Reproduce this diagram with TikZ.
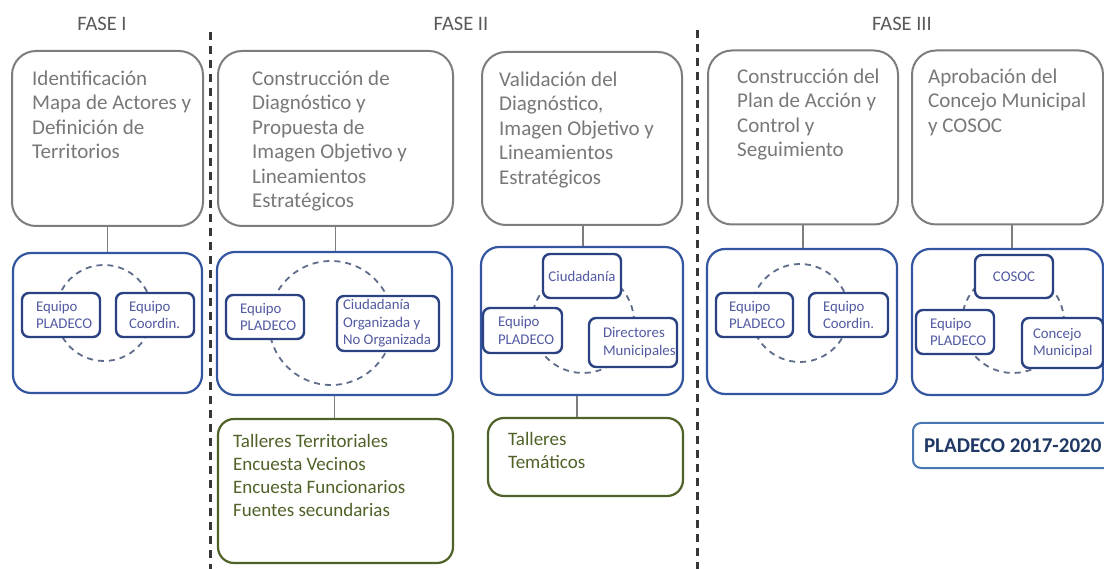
\documentclass[tikz,border=0pt]{standalone}
\usepackage{fontspec}
\setmainfont{Carlito}
\hyphenpenalty=10000
\exhyphenpenalty=10000
\definecolor{graybd}{RGB}{125,125,125}
\definecolor{graytx}{RGB}{120,120,120}
\definecolor{phasec}{RGB}{89,89,89}
\definecolor{bluebd}{RGB}{52,86,160}
\definecolor{navy}{RGB}{42,66,130}
\definecolor{itext}{RGB}{82,90,162}
\definecolor{cycc}{RGB}{95,108,140}
\definecolor{greenbd}{RGB}{79,98,40}
\definecolor{greentx}{RGB}{79,98,40}
\definecolor{plabd}{RGB}{72,120,180}
\definecolor{platx}{RGB}{31,56,100}
\definecolor{divc}{RGB}{55,55,55}
\begin{document}
\begin{tikzpicture}[x=1pt,y=-1pt,
  grayboxst/.style={draw=graybd, line width=2pt, rounded corners=24pt, inner sep=0pt},
  blueboxst/.style={draw=bluebd, line width=2.2pt, rounded corners=18pt, inner sep=0pt},
  greenboxst/.style={draw=greenbd, line width=2.2pt, rounded corners=16pt, inner sep=0pt},
  ibox/.style={draw=navy, line width=2.4pt, fill=white, rounded corners=7pt, inner sep=0pt,
    text=itext, font=\fontsize{14.8}{17.5}\selectfont, align=flush left},
  cyc/.style={circle, draw=cycc, line width=1.8pt, dash pattern=on 6pt off 5pt, inner sep=0pt},
  stem/.style={draw=graybd, line width=1.5pt},
  divider/.style={draw=divc, line width=3pt, dash pattern=on 8pt off 6pt},
  phase/.style={text=phasec, font=\fontsize{20.5}{24}\selectfont, anchor=base, inner sep=0pt},
  gtext/.style={text=graytx, font=\fontsize{21}{24.5}\selectfont, align=flush left, anchor=north west, inner sep=0pt},
  grtext/.style={text=greentx, font=\fontsize{19}{23}\selectfont, align=flush left, anchor=north west, inner sep=0pt},
  plabox/.style={draw=plabd, line width=2pt, rounded corners=8pt, inner sep=0pt,
    text=platx, font=\fontsize{21}{24}\selectfont\bfseries, align=flush left}
]
\fill[white] (0,0) rectangle (1104,569);
\useasboundingbox (0,0) rectangle (1104,569);

% phase titles
\node[phase] (f1) at (102,31) {FASE I};
\node[phase] (f2) at (461,31) {FASE II};
\node[phase] (f3) at (902,31) {FASE III};

% dividers
\coordinate (d1a) at (210,32);
\coordinate (d1b) at (210,569);
\coordinate (d2a) at (697,30);
\coordinate (d2b) at (697,569);
\draw[divider] (d1a) -- (d1b);
\draw[divider] (d2a) -- (d2b);

% gray boxes
\node[grayboxst, minimum width=191pt, minimum height=175pt] (g1) at (107.5,138.5) {};
\node[grayboxst, minimum width=235pt, minimum height=175pt] (g2) at (335.5,138.5) {};
\node[grayboxst, minimum width=200pt, minimum height=173pt] (g3) at (582,138.5) {};
\node[grayboxst, minimum width=190pt, minimum height=174pt] (g4) at (803,137.5) {};
\node[grayboxst, minimum width=191pt, minimum height=174pt] (g5) at (1007.5,137.5) {};

\node[gtext] (t1) at (32,67.85) {\strut Identificación\\Mapa de Actores y\\Definición de\\Territorios};
\node[gtext] (t2) at (252,67.85) {\strut Construcción de\\Diagnóstico y\\Propuesta de\\Imagen Objetivo y\\Lineamientos\\Estratégicos};
\node[gtext] (t3) at (499,68.85) {\strut Validación del\\Diagnóstico,\\Imagen Objetivo y\\Lineamientos\\Estratégicos};
\node[gtext] (t4) at (737,65.85) {\strut Construcción del\\Plan de Acción y\\Control y\\Seguimiento};
\node[gtext] (t5) at (928,65.85) {\strut Aprobación del\\Concejo Municipal\\y COSOC};

% blue boxes
\node[blueboxst, minimum width=189pt, minimum height=140pt] (b1) at (107.5,323) {};
\node[blueboxst, minimum width=235pt, minimum height=143pt] (b2) at (334.5,323.5) {};
\node[blueboxst, minimum width=202pt, minimum height=148pt] (b3) at (582,321) {};
\node[blueboxst, minimum width=190pt, minimum height=145pt] (b4) at (802,321.5) {};
\node[blueboxst, minimum width=191pt, minimum height=146pt] (b5) at (1007.5,322) {};

% stems
\draw[stem] (g1.south) -- (g1.south |- b1.north);
\draw[stem] (g2.south) -- (g2.south |- b2.north);
\draw[stem] ([xshift=1pt]g3.south) -- ([xshift=1pt]g3.south |- b3.north);
\draw[stem] (g4.south) -- (g4.south |- b4.north);
\draw[stem] ([xshift=4.5pt]g5.south) -- ([xshift=4.5pt]g5.south |- b5.north);

% cycles
\node[cyc, minimum size=96pt] (cy1) at (104,313) {};
\node[cyc, minimum size=124pt] (cy2) at (331,323) {};
\node[cyc, minimum size=102pt] (cy3) at (583,322) {};
\node[cyc, minimum size=98pt] (cy4) at (800,313) {};
\node[cyc, minimum size=102pt] (cy5) at (1013,322) {};

% inner boxes
\node[ibox, minimum width=78pt, minimum height=44pt, text width=50pt] (p1) at (61,315) {Equipo\\PLADECO};
\node[ibox, minimum width=78pt, minimum height=44pt, text width=52pt] (c1) at (155,315) {Equipo\\Coordin.};

\node[ibox, minimum width=78pt, minimum height=44pt, text width=50pt] (p2) at (265,317) {Equipo\\PLADECO};
\node[ibox, minimum width=102pt, minimum height=55pt, text width=90pt] (o2) at (388,323.5) {Ciudadanía\\Organizada y\\No Organizada};

\node[ibox, minimum width=78pt, minimum height=44pt, text width=78pt, align=center] (ci3) at (582,276) {Ciudadanía};
\node[ibox, minimum width=79pt, minimum height=45pt, text width=49pt] (p3) at (522.5,330.5) {Equipo\\PLADECO};
\node[ibox, minimum width=88pt, minimum height=49pt, text width=60pt] (d3) at (633,342.5) {Directores\\Municipales};

\node[ibox, minimum width=77pt, minimum height=44pt, text width=51pt] (p4) at (754.5,315) {Equipo\\PLADECO};
\node[ibox, minimum width=79pt, minimum height=44pt, text width=51pt] (c4) at (848.5,315) {Equipo\\Coordin.};

\node[ibox, minimum width=78pt, minimum height=43pt, text width=78pt, align=center] (co5) at (1014,276.5) {COSOC};
\node[ibox, minimum width=78pt, minimum height=44pt, text width=50pt] (p5) at (955,332) {Equipo\\PLADECO};
\node[ibox, minimum width=81pt, minimum height=50pt, text width=59pt] (m5) at (1062.5,343) {Concejo\\Municipal};

% green boxes
\node[greenboxst, minimum width=235pt, minimum height=144pt] (gr1) at (335.5,491) {};
\node[greenboxst, minimum width=195pt, minimum height=78pt] (gr2) at (585.5,457) {};
\draw[stem] (b2.south) -- (b2.south |- gr1.north);
\draw[stem] ([xshift=-5pt]b3.south) -- ([xshift=-5pt]b3.south |- gr2.north);

\node[grtext] (gt1) at (233,430.9) {\strut Talleres Territoriales\\Encuesta Vecinos\\Encuesta Funcionarios\\Fuentes secundarias};
\node[grtext] (gt2) at (508,428.9) {\strut Talleres\\Temáticos};

% final box
\node[plabox, minimum width=203pt, minimum height=45pt, text width=181pt, anchor=west] (pla) at (912,445.5) {PLADECO 2017-2020};
\end{tikzpicture}
\end{document}
